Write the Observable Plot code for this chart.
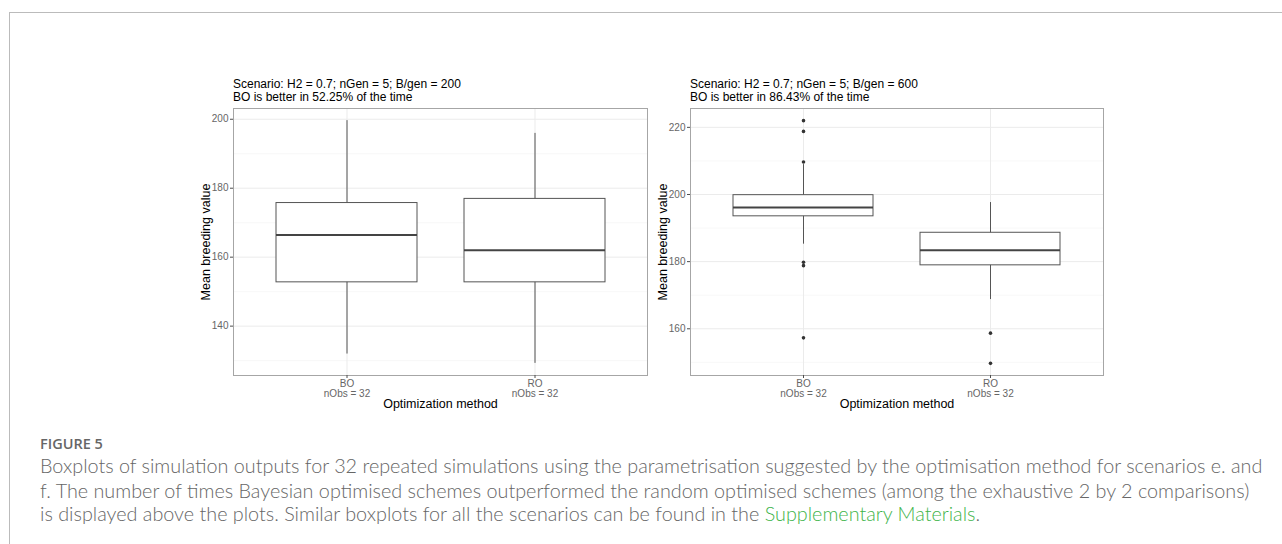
<!DOCTYPE html>
<html><head><meta charset="utf-8">
<script src="https://cdn.jsdelivr.net/npm/d3@7"></script>
<script src="https://cdn.jsdelivr.net/npm/@observablehq/plot@0.6"></script>
<style>
body{margin:0;background:#fff;}
#page{position:relative;width:1282px;height:544px;overflow:hidden;font-family:"Liberation Sans",Arial,sans-serif;background:#fff;}
.frame{position:absolute;left:9px;top:12px;right:-2px;bottom:-2px;border-top:1px solid #bbb;border-left:1px solid #bbb;}
.ptitle{position:absolute;font-size:12px;line-height:13px;color:#000;white-space:nowrap;}
.chart{position:absolute;}
.figlabel{position:absolute;left:40px;top:434px;font-family:"Open Sans",Lato,sans-serif;font-weight:600;font-size:14.5px;color:#666;}
.cap{position:absolute;left:40px;font-family:Lato,"Open Sans",sans-serif;font-weight:300;font-size:19.8px;line-height:24px;color:#666;white-space:nowrap;}
.cap a{color:#3eb44a;text-decoration:none;}
</style></head>
<body>
<div id="page">
  <div class="frame"></div>
  <div class="ptitle" style="left:233px;top:78px;">Scenario: H2 = 0.7; nGen = 5; B/gen = 200<br>BO is better in 52.25% of the time</div>
  <div class="ptitle" style="left:690px;top:78px;">Scenario: H2 = 0.7; nGen = 5; B/gen = 600<br>BO is better in 86.43% of the time</div>
  <div class="chart" id="left" style="left:190px;top:100px;"></div>
  <div class="chart" id="right" style="left:650px;top:100px;"></div>
  <div class="figlabel">FIGURE 5</div>
  <div class="cap" style="top:453px;">Boxplots of simulation outputs for 32 repeated simulations using the parametrisation suggested by the optimisation method for scenarios e. and</div>
  <div class="cap" style="top:478px;">f. The number of times Bayesian optimised schemes outperformed the random optimised schemes (among the exhaustive 2 by 2 comparisons)</div>
  <div class="cap" style="top:501px;">is displayed above the plots. Similar boxplots for all the scenarios can be found in the <a>Supplementary Materials</a>.</div>
</div>
<script>
// ---- data ----
const methods = ["BO", "RO"];
const nObs = [32, 32];

// Scenario e (B/gen = 200)
const eLow    = [131.9, 129.2];
const eQ1     = [152.7, 152.7];
const eMedian = [166.4, 162.0];
const eQ3     = [175.7, 176.9];
const eHigh   = [199.6, 195.9];
const eOutBO  = [];
const eOutRO  = [];
const eTicks  = [140, 160, 180, 200];
const eMinor  = [130, 150, 170, 190];

// Scenario f (B/gen = 600)
const fLow    = [185.2, 168.7];
const fQ1     = [193.5, 178.9];
const fMedian = [196.1, 183.4];
const fQ3     = [199.8, 188.6];
const fHigh   = [208.9, 197.6];
const fOutBO  = [222.0, 218.8, 209.7, 179.8, 178.8, 157.3];
const fOutRO  = [158.7, 149.7];
const fTicks  = [160, 180, 200, 220];
const fMinor  = [150, 170, 190, 210];

function build(low, q1, med, q3, high, outBO, outRO) {
  const stats = methods.map((m, i) => ({method: m, lo: low[i], q1: q1[i], med: med[i], q3: q3[i], hi: high[i]}));
  const outl = [...outBO.map(v => ({method: "BO", value: v})), ...outRO.map(v => ({method: "RO", value: v}))];
  return {stats, outl};
}

function boxChart({stats, outl}, major, minor, ml, mr) {
  const vals = [...stats.flatMap(d => [d.lo, d.hi]), ...outl.map(d => d.value)];
  const mn = d3.min(vals), mx = d3.max(vals), pad = (mx - mn) * 0.05;
  return Plot.plot({
    width: 460, height: 320,
    marginLeft: ml, marginRight: mr, marginTop: 8, marginBottom: 45,
    style: {fontFamily: "'Liberation Sans', Arial, sans-serif", fontSize: "10px", background: "transparent", color: "#666"},
    x: {domain: methods, paddingInner: 0.25, paddingOuter: 0.225, axis: null},
    y: {domain: [mn - pad, mx + pad], axis: null},
    marks: [
      Plot.gridY(minor, {stroke: "#f3f3f3", strokeOpacity: 1, strokeWidth: 0.7}),
      Plot.gridY(major, {stroke: "#ebebeb", strokeOpacity: 1, strokeWidth: 1}),
      Plot.gridX(methods, {stroke: "#ebebeb", strokeOpacity: 1, strokeWidth: 1}),
      Plot.frame({stroke: "#a6a6a6"}),
      Plot.axisY(major, {tickSize: 3, tickPadding: 2, label: null, fill: "#666", stroke: "#4d4d4d"}),
      Plot.axisX(methods, {tickSize: 3, tickPadding: 1, label: null, fill: "#666", stroke: "#4d4d4d",
        tickFormat: d => `${d}\nnObs = ${nObs[methods.indexOf(d)]}`, lineHeight: 1.0}),
      Plot.text(["Mean breeding value"], {frameAnchor: "left", textAnchor: "middle", dx: -28, rotate: -90, fontSize: 12.5, fill: "#000"}),
      Plot.text(["Optimization method"], {frameAnchor: "bottom", textAnchor: "middle", dy: 32, fontSize: 12.5, fill: "#000"}),
      Plot.ruleX(stats, {x: "method", y1: "lo", y2: "hi", stroke: "#555", strokeWidth: 1}),
      Plot.barY(stats, {x: "method", y1: "q1", y2: "q3", fill: "white", stroke: "#555", strokeWidth: 1}),
      Plot.tickY(stats, {x: "method", y: "med", stroke: "#444", strokeWidth: 2}),
      Plot.dot(outl, {x: "method", y: "value", r: 1.8, fill: "#333", stroke: null})
    ]
  });
}

document.getElementById("left").append(boxChart(build(eLow, eQ1, eMedian, eQ3, eHigh, eOutBO, eOutRO), eTicks, eMinor, 43, 3));
document.getElementById("right").append(boxChart(build(fLow, fQ1, fMedian, fQ3, fHigh, fOutBO, fOutRO), fTicks, fMinor, 40, 7));
</script>
</body></html>
